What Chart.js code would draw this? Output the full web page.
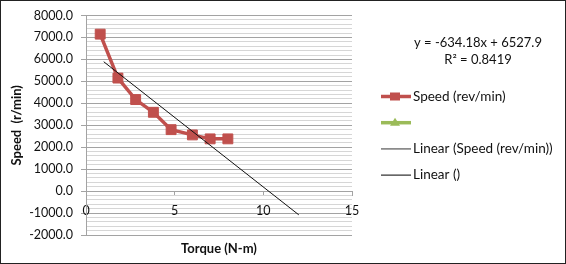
<!DOCTYPE html>
<html>
<head>
<meta charset="utf-8">
<script src="https://cdn.jsdelivr.net/npm/chart.js@4.4.0/dist/chart.umd.min.js"></script>
<style>
  html, body { margin: 0; padding: 0; background: #fff; }
  #graficoVelocidade { display: block; }
</style>
</head>
<body>
<canvas id="graficoVelocidade" width="566" height="264"></canvas>
<script>
// Valores (torque em N-m, velocidade em rev/min)
const torque = [0.8, 1.8, 2.8, 3.8, 4.8, 6.0, 7.0, 8.0];
const velocidade = [7150, 5150, 4170, 3590, 2800, 2560, 2380, 2380];

// Extremos da linha de tendência
const tendenciaX = [1, 12];
const tendenciaY = [5894, -1082];

const rotulos = ['Speed (rev/min)', '', 'Linear (Speed (rev/min))', 'Linear ()'];
const equacao = ['y = -634.18x + 6527.9', 'R² = 0.8419'];
const ticksX = [0, 5, 10, 15];

const fonte = 'Lato';
const vermelho = '#c0504d';
const verde = '#9bbb59';
const cinzaGrade = '#a3a3a3';
const cinzaMenor = '#d6d6d6';

/**
 * Fundo branco, moldura, equação e legenda à direita.
 */
const legendaLateral = {
  id: 'legendaLateral',
  beforeDraw(chart) {
    const ctx = chart.ctx;
    ctx.save();
    ctx.fillStyle = '#fff';
    ctx.fillRect(0, 0, chart.width, chart.height);
    ctx.restore();
  },
  afterDraw(chart) {
    const ctx = chart.ctx;
    ctx.save();
    ctx.font = `13px ${fonte}`;
    ctx.fillStyle = '#111';
    ctx.textAlign = 'center';
    ctx.textBaseline = 'middle';
    ctx.fillText(equacao[0], 478, 43);
    ctx.fillText(equacao[1], 478, 60);

    ctx.font = `13.5px ${fonte}`;
    ctx.textAlign = 'left';
    chart.data.datasets.forEach((ds, i) => {
      const y = 96.5 + i * 26.2;
      ctx.strokeStyle = ds.legendaCor || ds.borderColor;
      ctx.lineWidth = ds.legendaLargura || ds.borderWidth;
      ctx.beginPath();
      ctx.moveTo(381, y);
      ctx.lineTo(411, y);
      ctx.stroke();
      ctx.fillStyle = ds.borderColor;
      if (ds.pointStyle === 'rect') {
        ctx.fillRect(390, y - 4, 10, 8);
      } else if (ds.pointStyle === 'triangle') {
        ctx.beginPath();
        ctx.moveTo(395, y - 5);
        ctx.lineTo(400, y + 3);
        ctx.lineTo(390, y + 3);
        ctx.closePath();
        ctx.fill();
      }
      ctx.fillStyle = '#111';
      ctx.fillText(ds.label, 413, y);
    });

    ctx.strokeStyle = '#222';
    ctx.lineWidth = 1;
    ctx.strokeRect(0.5, 0.5, chart.width - 1, chart.height - 1);
    ctx.restore();
  }
};

const ctx = document.getElementById('graficoVelocidade').getContext('2d');
const grafico = new Chart(ctx, {
  type: 'line',
  data: {
    datasets: [
      {
        label: rotulos[0],
        data: torque.map((t, i) => ({ x: t, y: velocidade[i] })),
        borderColor: vermelho,
        backgroundColor: vermelho,
        borderWidth: 3.5,
        pointStyle: 'rect',
        pointRadius: 7,
        pointBorderWidth: 1,
        tension: 0,
        order: 2
      },
      {
        label: rotulos[1],
        data: [],
        borderColor: verde,
        backgroundColor: verde,
        borderWidth: 3.5,
        pointStyle: 'triangle',
        order: 3
      },
      {
        label: rotulos[2],
        data: tendenciaX.map((t, i) => ({ x: t, y: tendenciaY[i] })),
        borderColor: '#111',
        legendaCor: '#777',
        legendaLargura: 1.5,
        borderWidth: 1,
        pointRadius: 0,
        order: 1
      },
      {
        label: rotulos[3],
        data: [],
        borderColor: '#000',
        borderWidth: 1,
        pointRadius: 0,
        order: 4
      }
    ]
  },
  options: {
    responsive: false,
    animation: false,
    events: [],
    layout: { padding: { left: 0, right: 214, top: 15, bottom: 29 } },
    scales: {
      x: {
        type: 'linear',
        position: { y: 0 },
        min: 0,
        max: 15,
        afterBuildTicks: s => { s.ticks = ticksX.map(v => ({ value: v })); },
        afterFit: s => { s.height = 66; },
        ticks: {
          font: { family: fonte, size: 12.5 },
          color: '#111',
          padding: 8,
          maxRotation: 0
        },
        grid: { drawOnChartArea: false, tickLength: 4, color: cinzaGrade },
        border: { color: cinzaGrade },
        title: {
          display: true,
          text: 'Torque (N-m)',
          font: { family: fonte, size: 13, weight: 'bold' },
          color: '#111',
          padding: 0
        }
      },
      y: {
        min: -2000,
        max: 8000,
        afterFit: s => { s.width = 86; },
        ticks: {
          stepSize: 200,
          maxTicksLimit: 60,
          autoSkip: false,
          font: { family: fonte, size: 12.5 },
          color: '#111',
          padding: 8,
          callback: v => Math.round(v) % 1000 === 0 ? Math.round(v).toFixed(1) : ''
        },
        grid: {
          tickLength: 5,
          color: c => c.tick && Math.round(c.tick.value) % 1000 === 0 ? cinzaGrade : cinzaMenor,
          tickColor: c => c.tick && Math.round(c.tick.value) % 1000 === 0 ? cinzaGrade : 'rgba(0,0,0,0)'
        },
        border: { color: cinzaGrade },
        title: {
          display: true,
          text: 'Speed  (r/min)',
          font: { family: fonte, size: 13, weight: 'bold' },
          color: '#111',
          padding: { top: 9, bottom: 0 }
        }
      }
    },
    plugins: {
      legend: { display: false },
      tooltip: { enabled: false }
    }
  },
  plugins: [legendaLateral]
});
</script>
</body>
</html>
